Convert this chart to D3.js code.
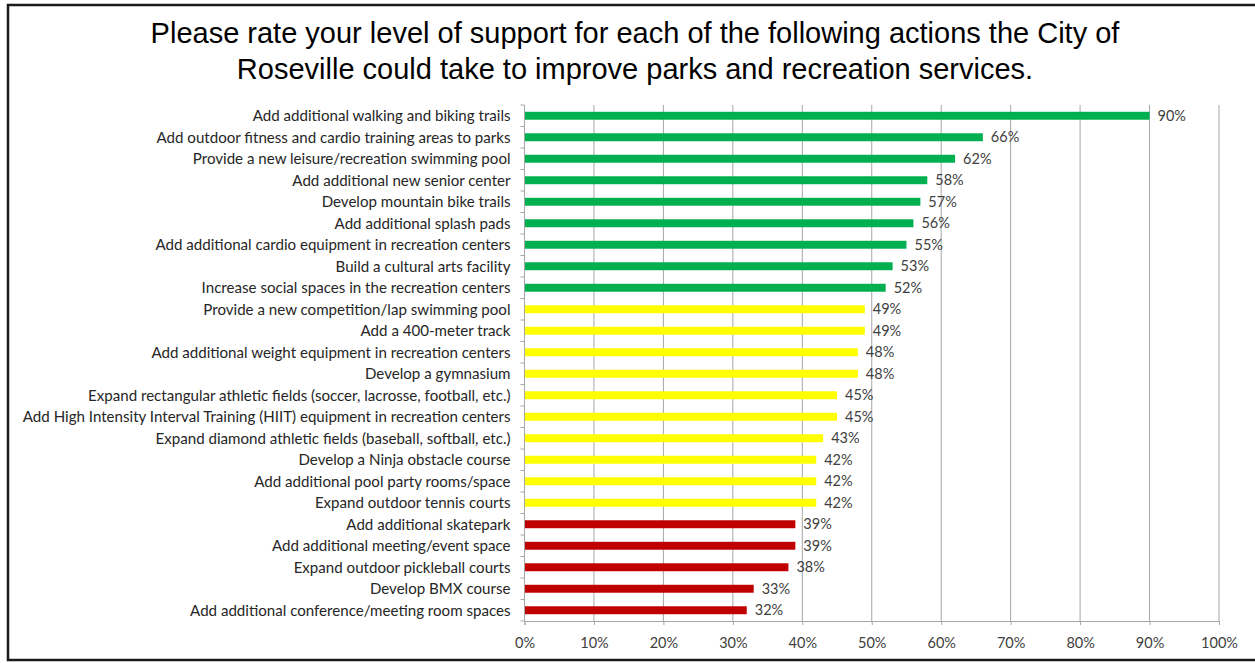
<!DOCTYPE html>
<html>
<head>
<meta charset="utf-8">
<script src="https://cdn.jsdelivr.net/npm/d3@7"></script>
<style>
  html, body { margin: 0; padding: 0; background: #fff; }
  svg { display: block; }
</style>
</head>
<body>
<svg id="chart" width="1255" height="663"></svg>
<script>
// Survey actions, in display order (top to bottom)
const actions = [
  "Add additional walking and biking trails",
  "Add outdoor fitness and cardio training areas to parks",
  "Provide a new leisure/recreation swimming pool",
  "Add additional new senior center",
  "Develop mountain bike trails",
  "Add additional splash pads",
  "Add additional cardio equipment in recreation centers",
  "Build a cultural arts facility",
  "Increase social spaces in the recreation centers",
  "Provide a new competition/lap swimming pool",
  "Add a 400-meter track",
  "Add additional weight equipment in recreation centers",
  "Develop a gymnasium",
  "Expand rectangular athletic fields (soccer, lacrosse, football, etc.)",
  "Add High Intensity Interval Training (HIIT) equipment in recreation centers",
  "Expand diamond athletic fields (baseball, softball, etc.)",
  "Develop a Ninja obstacle course",
  "Add additional pool party rooms/space",
  "Expand outdoor tennis courts",
  "Add additional skatepark",
  "Add additional meeting/event space",
  "Expand outdoor pickleball courts",
  "Develop BMX course",
  "Add additional conference/meeting room spaces"
];

// Share of respondents supporting each action (%)
const support = [90, 66, 62, 58, 57, 56, 55, 53, 52, 49, 49, 48, 48, 45, 45, 43, 42, 42, 42, 39, 39, 38, 33, 32];

// Support tier for each action: high / medium / low
const tiers = ["high","high","high","high","high","high","high","high","high",
  "medium","medium","medium","medium","medium","medium","medium","medium","medium","medium",
  "low","low","low","low","low"];

const xTicks = [0, 10, 20, 30, 40, 50, 60, 70, 80, 90, 100];

const titleLines = [
  "Please rate your level of support for each of the following actions the City of",
  "Roseville could take to improve parks and recreation services."
];

const tierColor = { high: "#00B050", medium: "#FFFF00", low: "#C00000" };

const labelFont = "Lato, 'Open Sans', sans-serif";

const svg = d3.select("#chart");
const W = 1255, H = 663;

// Outer frame
svg.append("rect")
  .attr("x", 8).attr("y", 5).attr("width", W + 10).attr("height", 655)
  .attr("fill", "#fff").attr("stroke", "#1a1a1a").attr("stroke-width", 2.5);

// Title
svg.append("g")
  .selectAll("text")
  .data(titleLines)
  .join("text")
  .attr("x", 635)
  .attr("y", (d, i) => 43 + i * 36)
  .attr("text-anchor", "middle")
  .attr("font-family", "'Liberation Sans', Arial, sans-serif")
  .attr("font-size", 29)
  .attr("fill", "#000")
  .text(d => d);

const plot = { left: 524.5, right: 1219, top: 105, bottom: 621 };

const x = d3.scaleLinear().domain([0, 100]).range([plot.left, plot.right]);
const y = d3.scaleBand().domain(actions).range([plot.top, plot.bottom]).paddingInner(0.63).paddingOuter(0.315);

const data = actions.map((a, i) => ({ name: a, value: support[i], tier: tiers[i] }));

// Vertical gridlines
svg.append("g")
  .selectAll("line")
  .data(xTicks.filter(t => t > 0))
  .join("line")
  .attr("x1", d => x(d)).attr("x2", d => x(d))
  .attr("y1", plot.top).attr("y2", plot.bottom)
  .attr("stroke", "#a6a6a6").attr("stroke-width", 1);

// Bars
svg.append("g")
  .selectAll("rect")
  .data(data)
  .join("rect")
  .attr("x", x(0))
  .attr("y", d => y(d.name))
  .attr("width", d => x(d.value) - x(0))
  .attr("height", y.bandwidth())
  .attr("fill", d => tierColor[d.tier]);

// Value labels
svg.append("g")
  .selectAll("text")
  .data(data)
  .join("text")
  .attr("x", d => x(d.value) + 8)
  .attr("y", d => y(d.name) + y.bandwidth() / 2)
  .attr("dy", "0.35em")
  .attr("font-family", labelFont)
  .attr("font-size", 14.5)
  .attr("fill", "#404040")
  .text(d => d.value + "%");

// Bottom axis
const xAxis = d3.axisBottom(x)
  .tickValues(xTicks)
  .tickSize(4)
  .tickPadding(13)
  .tickFormat(d => d + "%");

const gx = svg.append("g")
  .attr("transform", `translate(0,${plot.bottom})`)
  .call(xAxis);
gx.select(".domain").attr("stroke", "#a6a6a6");
gx.selectAll(".tick line").attr("stroke", "#a6a6a6");
gx.selectAll(".tick text")
  .attr("font-family", labelFont)
  .attr("font-size", 14.5)
  .attr("fill", "#404040");

// Left axis with category labels
const step = y.step();
const gy = svg.append("g")
  .attr("transform", `translate(${plot.left},0)`);
gy.append("line")
  .attr("x1", 0).attr("x2", 0)
  .attr("y1", plot.top).attr("y2", plot.bottom)
  .attr("stroke", "#a6a6a6");
gy.selectAll("line.tick")
  .data(d3.range(actions.length + 1))
  .join("line")
  .attr("class", "tick")
  .attr("x1", -4).attr("x2", 0)
  .attr("y1", i => plot.top + i * step)
  .attr("y2", i => plot.top + i * step)
  .attr("stroke", "#a6a6a6");
gy.selectAll("text")
  .data(actions)
  .join("text")
  .attr("x", -14)
  .attr("y", d => y(d) + y.bandwidth() / 2)
  .attr("dy", "0.35em")
  .attr("text-anchor", "end")
  .attr("font-family", labelFont)
  .attr("font-size", 15.1)
  .attr("fill", "#262626")
  .text(d => d);
</script>
</body>
</html>
